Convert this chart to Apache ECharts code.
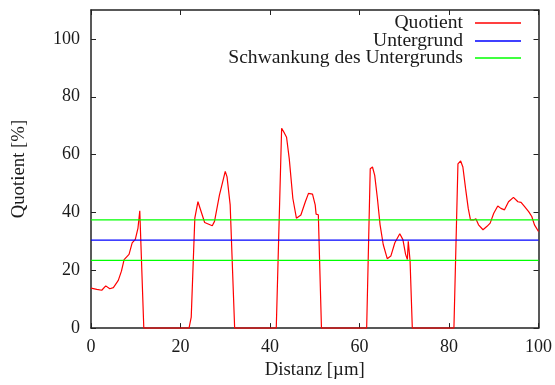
<!DOCTYPE html>
<html>
<head>
<meta charset="utf-8">
<script src="https://cdn.jsdelivr.net/npm/echarts@6/dist/echarts.min.js"></script>
<style>html,body{margin:0;padding:0;background:#fff}#c{width:555px;height:385px}</style>
</head>
<body>
<div id="c"></div>
<script>
// Data
var distance = [0, 1.3, 2.4, 3.3, 4.2, 5.0, 6.1, 6.8, 7.4, 8.5, 9.2, 9.9, 10.5, 10.9, 11.8,
  21.9, 22.4, 23.2, 23.9, 24.3, 25.4, 27.1, 27.6, 28.7, 30.0, 30.4, 31.1, 32.1,
  41.4, 42.6, 43.2, 43.7, 44.3, 45.1, 45.9, 46.9, 47.9, 48.6, 49.5, 50.1, 50.3, 50.8, 51.5,
  61.6, 62.4, 62.9, 63.4, 64.0, 64.6, 65.3, 66.2, 67.0, 67.9, 69.0, 69.7, 70.3, 70.7, 70.9, 71.0, 71.3, 71.8,
  81.1, 82.0, 82.6, 83.1, 83.7, 84.3, 84.8, 85.5, 86.0, 86.6, 87.6, 88.5, 89.2, 90.0, 90.9, 91.6, 92.4,
  93.3, 94.4, 95.4, 96.1, 96.9, 97.8, 98.5, 99.1, 100];
var quotient = [13.8, 13.4, 13.1, 14.6, 13.6, 14.0, 16.5, 19.7, 23.7, 25.5, 29.5, 30.7, 34.6, 40.6, 0,
  0, 3.8, 38, 43.7, 43.2, 36.5, 35.4, 36.9, 46, 54.2, 52.3, 42.6, 0,
  0, 69.1, 67.5, 66, 58.6, 44.9, 38, 39.1, 43.7, 46.6, 46.3, 42.6, 39.4, 39.2, 0,
  0, 55.1, 55.7, 52.8, 44.9, 35.7, 28.9, 24, 24.9, 29.5, 32.6, 30.6, 25.5, 23.7, 30, 30, 23.3, 0,
  0, 56.8, 57.8, 55.7, 48.3, 41.4, 37.4, 37.4, 37.8, 35.7, 34, 35.2, 36.3, 39.7, 42.2, 41.4, 40.9,
  43.7, 45.2, 43.7, 43.5, 42, 40.3, 38.6, 35.7, 33.4];
var backgroundLevel = 30.4;
var fluctuationUpper = 37.4;
var fluctuationLower = 23.4;
var xRange = [0, 100];
var seriesNames = ['Quotient', 'Untergrund', 'Schwankung des Untergrunds'];
var xTitle = 'Distanz [\u00b5m]';
var yTitle = 'Quotient [%]';

var FONT = 'Liberation Serif';
var TXT = '#1a1a1a';
var AX = '#222';

function hline(v) { return [[xRange[0], v], [xRange[1], v]]; }
var quotData = distance.map(function (d, i) { return [d, quotient[i]]; });

var chart = echarts.init(document.getElementById('c'), null, {renderer: 'canvas'});
function legendFor(name, top) {
  return {
    data: [{name: name, icon: 'rect'}], orient: 'vertical', right: 34, top: top, padding: 0, align: 'right',
    itemWidth: 46, itemHeight: 1.6, selectedMode: false,
    textStyle: {fontFamily: FONT, fontSize: 19.6, color: TXT, padding: [0, 7, 0, 0]}
  };
}
var baseX = {
  type: 'value', min: 0, max: 100, interval: 20,
  axisLine: {show: true, onZero: false, lineStyle: {color: AX, width: 1.5}},
  axisTick: {show: true, inside: true, length: 5, lineStyle: {color: AX, width: 1}},
  splitLine: {show: false}
};
var baseY = {
  type: 'value', min: 0, max: 110, interval: 20,
  axisLine: {show: true, onZero: false, lineStyle: {color: AX, width: 1.5}},
  axisTick: {show: true, inside: true, length: 5, lineStyle: {color: AX, width: 1}},
  splitLine: {show: false}
};
chart.setOption({
  animation: false,
  backgroundColor: '#fff',
  grid: {left: 91, right: 15, top: 10, bottom: 54, containLabel: false},
  legend: [legendFor(seriesNames[0], 13), legendFor(seriesNames[1], 31), legendFor(seriesNames[2], 48)],
  xAxis: [
    Object.assign({}, baseX, {
      position: 'bottom', name: xTitle, nameLocation: 'middle', nameGap: 31,
      nameTextStyle: {fontFamily: FONT, fontSize: 18.8, color: TXT},
      axisLabel: {fontFamily: FONT, fontSize: 18, color: TXT, margin: 10}
    }),
    Object.assign({}, baseX, {position: 'top', axisLabel: {show: false}})
  ],
  yAxis: [
    Object.assign({}, baseY, {
      position: 'left', name: yTitle, nameLocation: 'middle', nameGap: 62,
      nameTextStyle: {fontFamily: FONT, fontSize: 18.8, color: TXT},
      axisLabel: {fontFamily: FONT, fontSize: 18, color: TXT, margin: 11, showMaxLabel: false}
    }),
    Object.assign({}, baseY, {position: 'right', axisLabel: {show: false}})
  ],
  series: [
    {name: seriesNames[0], type: 'line', data: quotData, symbol: 'none', color: '#ff0000',
      lineStyle: {color: '#ff0000', width: 1.2}, z: 2},
    {name: seriesNames[1], type: 'line', data: hline(backgroundLevel), symbol: 'none', color: '#0000ff',
      lineStyle: {color: '#0000ff', width: 1.2}, z: 3},
    {name: seriesNames[2], type: 'line', data: hline(fluctuationUpper), symbol: 'none', color: '#00ff00',
      lineStyle: {color: '#00ff00', width: 1.2}, z: 3},
    {name: seriesNames[2], type: 'line', data: hline(fluctuationLower), symbol: 'none', color: '#00ff00',
      lineStyle: {color: '#00ff00', width: 1.2}, z: 3}
  ]
});
</script>
</body>
</html>
